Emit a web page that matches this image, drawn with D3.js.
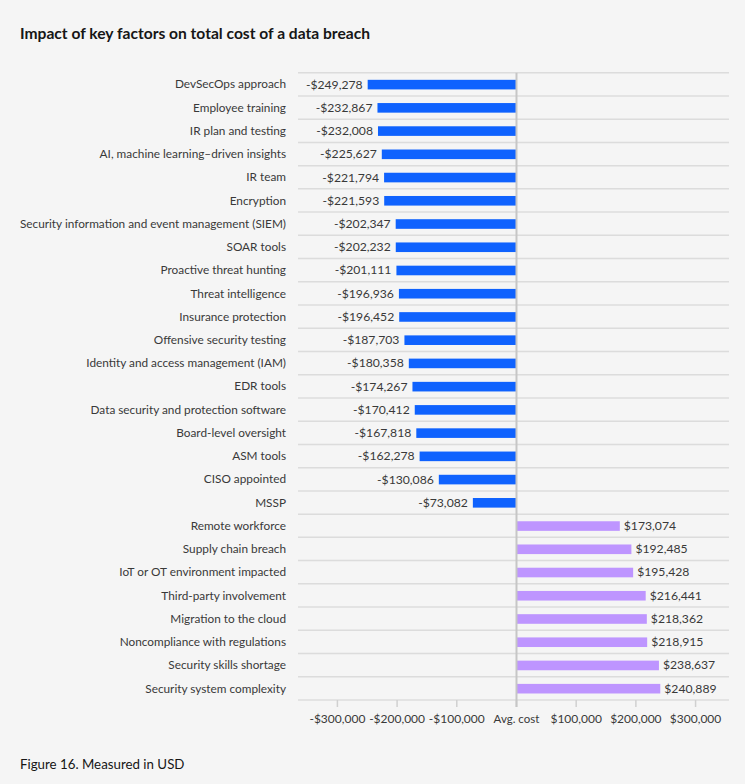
<!DOCTYPE html>
<html>
<head>
<meta charset="utf-8">
<script src="https://cdn.jsdelivr.net/npm/d3@7"></script>
<style>
  html, body { margin: 0; padding: 0; background: #f5f5f5; }
  svg { display: block; font-family: Lato, Roboto, sans-serif; }
</style>
</head>
<body>
<svg id="chart"></svg>
<script>
const factors = [
  'DevSecOps approach',
  'Employee training',
  'IR plan and testing',
  'AI, machine learning–driven insights',
  'IR team',
  'Encryption',
  'Security information and event management (SIEM)',
  'SOAR tools',
  'Proactive threat hunting',
  'Threat intelligence',
  'Insurance protection',
  'Offensive security testing',
  'Identity and access management (IAM)',
  'EDR tools',
  'Data security and protection software',
  'Board-level oversight',
  'ASM tools',
  'CISO appointed',
  'MSSP',
  'Remote workforce',
  'Supply chain breach',
  'IoT or OT environment impacted',
  'Third-party involvement',
  'Migration to the cloud',
  'Noncompliance with regulations',
  'Security skills shortage',
  'Security system complexity'
];
const impact = [
  -249278, -232867, -232008, -225627, -221794, -221593, -202347, -202232,
  -201111, -196936, -196452, -187703, -180358, -174267, -170412, -167818,
  -162278, -130086, -73082,
  173074, 192485, 195428, 216441, 218362, 218915, 238637, 240889
];
const tickValues = [-300000, -200000, -100000, 0, 100000, 200000, 300000];
const tickLabels = ['-$300,000', '-$200,000', '-$100,000', 'Avg. cost', '$100,000', '$200,000', '$300,000'];

const width = 745, height = 784;
const plotLeft = 298, plotRight = 729, plotTop = 72.7, plotBottom = 700;

const svg = d3.select('#chart').attr('width', width).attr('height', height);

const x = d3.scaleLinear().domain([-366000, 356000]).range([plotLeft, plotRight]);
const y = d3.scaleBand().domain(factors).range([plotTop, plotBottom]).padding(0);
const barH = 9.6;
const fmt = d3.format(',');

svg.append('text')
  .attr('x', 20).attr('y', 39)
  .attr('font-size', 15.6).attr('font-weight', 700)
  .attr('fill', '#161616')
  .text('Impact of key factors on total cost of a data breach');

// row separators
svg.append('g').selectAll('line')
  .data(factors)
  .enter().append('line')
  .attr('x1', plotLeft).attr('x2', plotRight)
  .attr('y1', d => y(d)).attr('y2', d => y(d))
  .attr('stroke', '#dcdcdc').attr('stroke-width', 1.5);

// bottom axis
const axis = svg.append('g').attr('transform', 'translate(0,' + plotBottom + ')');
axis.append('line').attr('x1', plotLeft).attr('x2', plotRight)
  .attr('stroke', '#dcdcdc').attr('stroke-width', 1.5);
axis.selectAll('.tick')
  .data(tickValues).enter().append('line')
  .attr('class', 'tick')
  .attr('x1', d => x(d)).attr('x2', d => x(d))
  .attr('y1', 0).attr('y2', 7)
  .attr('stroke', '#d0d0d0').attr('stroke-width', 1.5);
axis.selectAll('.tick-label')
  .data(tickValues).enter().append('text')
  .attr('class', 'tick-label')
  .attr('x', d => x(d)).attr('y', 23)
  .attr('text-anchor', 'middle')
  .attr('font-size', (d, i) => i === 3 ? 11.5 : 12)
  .attr('fill', '#393939')
  .text((d, i) => tickLabels[i]);

// bars
const rows = svg.append('g').selectAll('g')
  .data(factors).enter().append('g');

rows.append('rect')
  .attr('x', (d, i) => x(Math.min(0, impact[i])))
  .attr('y', d => y(d) + y.bandwidth() / 2 - barH / 2 + 0.3)
  .attr('width', (d, i) => Math.abs(x(impact[i]) - x(0)))
  .attr('height', barH)
  .attr('fill', (d, i) => impact[i] < 0 ? '#0f62fe' : '#be95ff');

rows.append('text')
  .attr('x', (d, i) => impact[i] < 0 ? x(impact[i]) - 5 : x(impact[i]) + 4)
  .attr('y', d => y(d) + y.bandwidth() / 2)
  .attr('dy', '0.35em')
  .attr('text-anchor', (d, i) => impact[i] < 0 ? 'end' : 'start')
  .attr('font-size', 12.2)
  .attr('fill', '#393939')
  .text((d, i) => (impact[i] < 0 ? '-$' : '$') + fmt(Math.abs(impact[i])));

rows.append('text')
  .attr('x', 286)
  .attr('y', d => y(d) + y.bandwidth() / 2)
  .attr('dy', '0.35em')
  .attr('text-anchor', 'end')
  .attr('font-size', 11.8)
  .attr('fill', '#393939')
  .text(d => d);

// zero line
svg.append('line')
  .attr('x1', x(0)).attr('x2', x(0))
  .attr('y1', plotTop).attr('y2', plotBottom + 7)
  .attr('stroke', '#c6c6c6').attr('stroke-width', 2);

svg.append('text')
  .attr('x', 20).attr('y', 769)
  .attr('font-size', 13.3)
  .attr('fill', '#161616')
  .text('Figure 16. Measured in USD');
</script>
</body>
</html>
